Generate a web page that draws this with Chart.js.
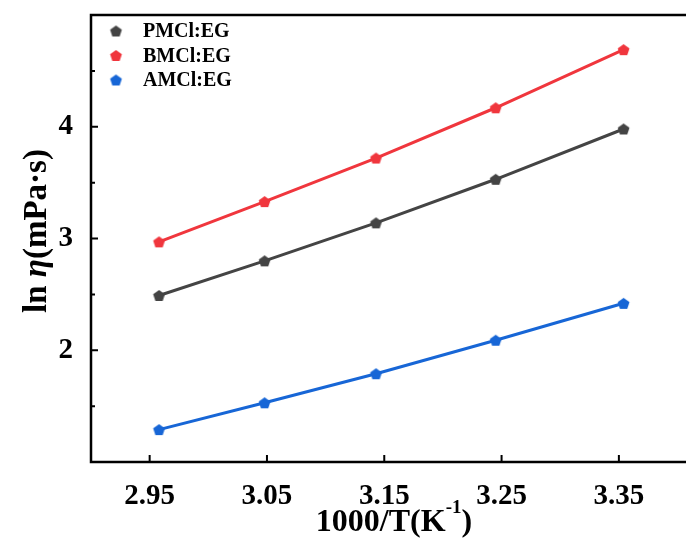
<!DOCTYPE html>
<html>
<head>
<meta charset="utf-8">
<script src="https://cdn.jsdelivr.net/npm/chart.js@4"></script>
<style>
  html, body { margin: 0; padding: 0; background: #fff; overflow: hidden; }
  #wrap { width: 720px; height: 542px; }
</style>
</head>
<body>
<div id="wrap"><canvas id="c" width="720" height="542"></canvas></div>
<script>
// 1000/T values and ln(viscosity) per system
const xValues = [2.958, 3.048, 3.143, 3.245, 3.354];
const pmclEG = [2.49, 2.80, 3.14, 3.53, 3.98];
const bmclEG = [2.97, 3.33, 3.72, 4.17, 4.69];
const amclEG = [1.29, 1.53, 1.79, 2.09, 2.42];
const seriesNames = ['PMCl:EG', 'BMCl:EG', 'AMCl:EG'];
const xTicks = [2.95, 3.05, 3.15, 3.25, 3.35];
const yTicks = [2, 3, 4];
const yMinorTicks = [1.5, 2.5, 3.5, 4.5];

const colors = ['#444444', '#f0363d', '#1766d6'];
const serif = '"Liberation Serif", "Times New Roman", serif';

function pentagon(color, r) {
    const c = document.createElement('canvas');
    const s = Math.ceil(r * 2 + 2);
    c.width = s; c.height = s;
    const g = c.getContext('2d');
    g.fillStyle = color;
    g.beginPath();
    for (let i = 0; i < 5; i++) {
        const a = -Math.PI / 2 + i * 2 * Math.PI / 5;
        const px = s / 2 + r * Math.cos(a), py = s / 2 + 0.6 + r * Math.sin(a);
        i ? g.lineTo(px, py) : g.moveTo(px, py);
    }
    g.closePath();
    g.fill();
    return c;
}

const markers = colors.map(c => pentagon(c, 6.2));

function toPoints(ys) {
    return xValues.map((x, i) => ({ x, y: ys[i] }));
}

// frame, inward ticks, legend and axis titles
const decorPlugin = {
    id: 'decor',
    afterDraw(chart) {
        const { ctx, chartArea: a, scales } = chart;
        ctx.save();
        ctx.strokeStyle = '#000';
        ctx.lineWidth = 2.5;
        ctx.strokeRect(a.left, a.top, a.right - a.left, a.bottom - a.top);

        ctx.lineWidth = 2;
        ctx.beginPath();
        xTicks.forEach(v => {
            const px = scales.x.getPixelForValue(v);
            ctx.moveTo(px, a.bottom); ctx.lineTo(px, a.bottom - 7);
        });
        yTicks.forEach(v => {
            const py = scales.y.getPixelForValue(v);
            ctx.moveTo(a.left, py); ctx.lineTo(a.left + 7, py);
        });
        yMinorTicks.forEach(v => {
            const py = scales.y.getPixelForValue(v);
            ctx.moveTo(a.left, py); ctx.lineTo(a.left + 4, py);
        });
        ctx.stroke();

        // legend
        ctx.font = 'bold 20px ' + serif;
        ctx.fillStyle = '#000';
        ctx.textBaseline = 'middle';
        ctx.textAlign = 'left';
        seriesNames.forEach((name, i) => {
            const y = 31 + i * 24.5;
            const m = markers[i];
            ctx.drawImage(m, 116 - m.width / 2, y - m.height / 2);
            ctx.fillText(name, 143, y + 1);
        });

        // x title
        ctx.textBaseline = 'alphabetic';
        ctx.textAlign = 'left';
        const big = 'bold 32px ' + serif, small = 'bold 19px ' + serif;
        const xt1 = '1000/T(K', sup = '-1', xt2 = ')';
        ctx.font = big;
        const w1 = ctx.measureText(xt1).width, w2 = ctx.measureText(xt2).width;
        ctx.font = small;
        const ws = ctx.measureText(sup).width;
        const sx = 394 - (w1 + ws + w2) / 2;
        ctx.font = big;
        ctx.fillText(xt1, sx, 531);
        ctx.fillText(xt2, sx + w1 + ws, 531);
        ctx.font = small;
        ctx.fillText(sup, sx + w1, 513);

        // y title
        ctx.translate(46, 231);
        ctx.rotate(-Math.PI / 2);
        const ybig = 'bold 33px ' + serif;
        const parts = [['ln ', ybig], ['\u03b7', 'italic ' + ybig], ['(mPa\u00b7s)', ybig]];
        let total = 0;
        parts.forEach(p => { ctx.font = p[1]; total += ctx.measureText(p[0]).width; });
        let px = -total / 2;
        parts.forEach(p => {
            ctx.font = p[1];
            ctx.fillText(p[0], px, 0);
            px += ctx.measureText(p[0]).width;
        });
        ctx.restore();
    }
};

const datasets = [pmclEG, bmclEG, amclEG].map((ys, i) => ({
    label: seriesNames[i],
    data: toPoints(ys),
    borderColor: colors[i],
    backgroundColor: colors[i],
    borderWidth: 3,
    pointStyle: markers[i],
    pointRadius: 6,
    pointHoverRadius: 6,
    tension: 0,
}));

new Chart(document.getElementById('c'), {
    type: 'line',
    data: { datasets },
    options: {
        responsive: false,
        animation: false,
        layout: { padding: { top: 15, right: 19, left: 0, bottom: 0 } },
        scales: {
            x: {
                type: 'linear',
                min: 2.90,
                max: 3.42,
                afterBuildTicks: s => { s.ticks = xTicks.map(v => ({ value: v })); },
                afterFit: s => { s.height = 80; s.paddingLeft = 0; s.paddingRight = 0; },
                grid: { display: false },
                border: { display: false },
                ticks: {
                    padding: 9,
                    color: '#000',
                    font: { family: serif, weight: 'bold', size: 29 },
                    callback: v => v.toFixed(2),
                },
            },
            y: {
                min: 1,
                max: 5,
                afterBuildTicks: s => { s.ticks = yTicks.map(v => ({ value: v })); },
                afterFit: s => { s.width = 91; s.paddingTop = 0; s.paddingBottom = 0; },
                grid: { display: false },
                border: { display: false },
                ticks: {
                    padding: 10,
                    color: '#000',
                    font: { family: serif, weight: 'bold', size: 29 },
                    callback: v => String(v),
                },
            },
        },
        plugins: {
            legend: { display: false },
            tooltip: { enabled: false },
        },
    },
    plugins: [decorPlugin],
});
</script>
</body>
</html>
